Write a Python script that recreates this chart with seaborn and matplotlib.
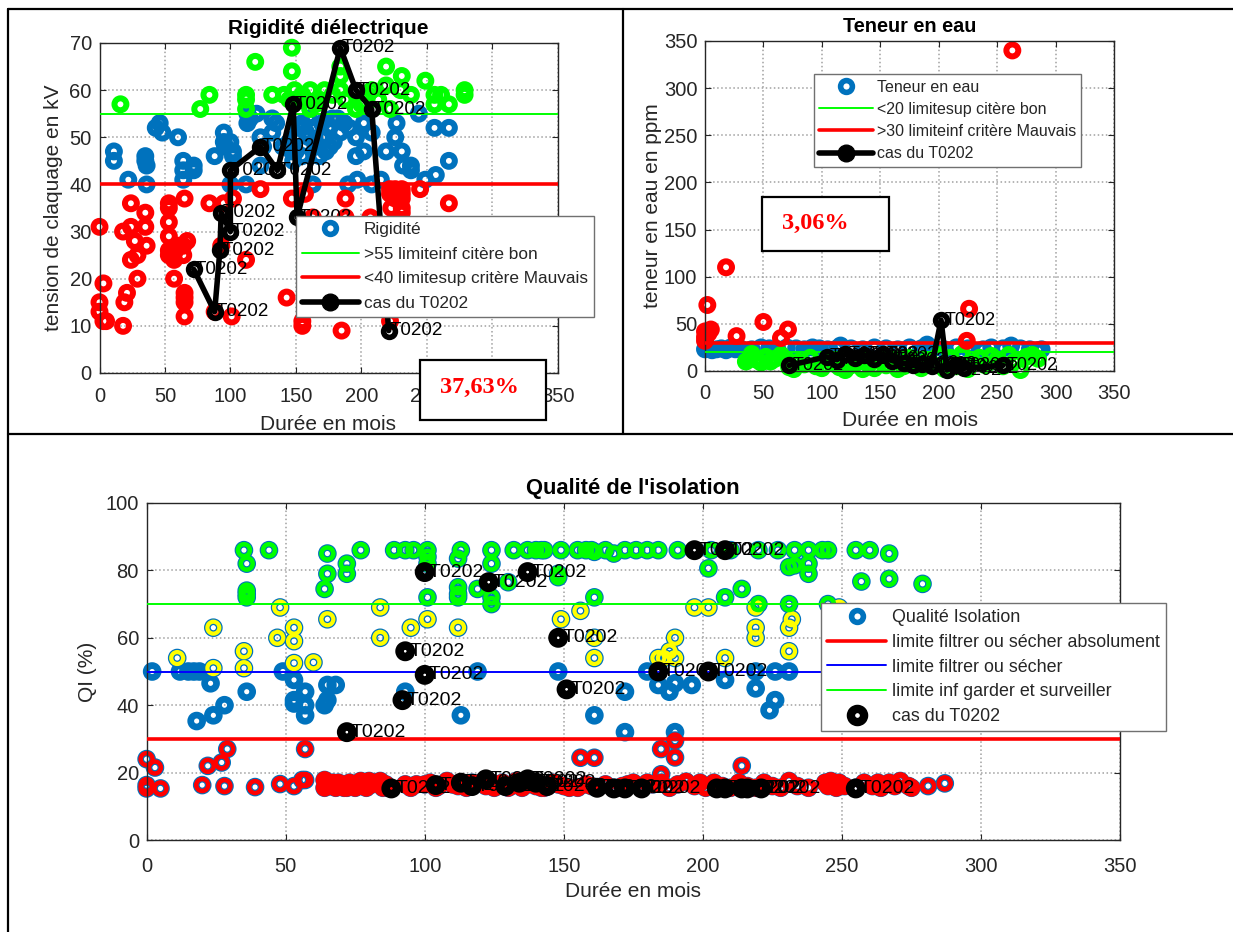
import pandas as pd
import seaborn as sns
import matplotlib.pyplot as plt
from matplotlib.lines import Line2D
from matplotlib.patches import Rectangle

W, H = 1233, 932
BLUE = '#0072BD'
RED = '#FF0000'
GREEN = '#00FF00'
YELLOW = '#FFFF00'

# --- Rigidite dielectrique
rig_blue_x = [11, 11, 22, 35, 35, 36, 36, 46, 43, 48, 60, 64, 64, 64, 72, 72, 88, 95, 95, 100, 96, 102, 102, 100, 112, 113, 113, 120, 123, 123, 132, 132, 135, 147, 140, 145, 150, 155, 158, 160, 163, 165, 168, 170, 173, 173, 176, 179, 184, 187, 191, 163, 190, 197, 196, 202, 196, 202, 208, 208, 215, 219, 226, 227, 231, 232, 238, 238, 249, 257, 256, 267, 267, 244, 115, 125, 150, 155, 165, 175, 160, 170, 178, 182, 152, 148]
rig_blue_y = [47, 45, 41, 46, 45, 44, 40, 53, 52, 51, 50, 45, 43, 41, 44, 43, 46, 51, 49, 49, 48, 47, 46, 40, 40, 53, 55, 55, 50, 44, 54, 51, 53, 47, 48, 49, 50, 53, 51, 54, 52, 48, 46, 50, 47, 50, 48, 49, 51, 53, 52, 40, 40, 41, 46, 47, 50, 53, 51, 40, 41, 47, 50, 53, 47, 44, 44, 43, 41, 42, 52, 52, 45, 55, 54, 48, 47, 46, 49, 52, 50, 53, 54, 54, 52, 45]
rig_green_x = [16, 77, 84, 112, 112, 112, 119, 132, 147, 147, 141, 149, 161, 172, 161, 184, 184, 188, 196, 208, 219, 219, 231, 238, 249, 256, 256, 261, 267, 279, 279, 150, 155, 168, 178, 200, 205, 213, 222, 230, 184, 145, 165]
rig_green_y = [57, 56, 59, 59, 58, 56, 66, 59, 69, 64, 59, 60, 60, 60, 56, 63, 60, 58, 56, 60, 65, 61, 63, 59, 62, 59, 57, 59, 57, 60, 59, 58, 59, 58, 59, 57, 59, 58, 56, 60, 65, 58, 57]
rig_red_x = [0, 3, 0, 0, 3, 5, 18, 19, 21, 29, 24, 29, 27, 24, 18, 35, 35, 24, 36, 53, 53, 53, 53, 53, 55, 57, 57, 65, 65, 65, 65, 65, 67, 64, 58, 64, 84, 95, 102, 93, 112, 101, 88, 123, 147, 157, 143, 155, 155, 188, 185, 188, 163, 207, 222, 222, 226, 231, 245, 267, 223, 231, 231, 231, 226, 222, 231, 53, 60]
rig_red_y = [31, 19, 15, 13, 11, 11, 10, 15, 17, 20, 24, 25, 28, 31, 30, 31, 34, 36, 27, 36, 35, 32, 29, 26, 25, 24, 20, 37, 12, 15, 16, 17, 28, 27, 26, 25, 36, 36, 37, 27, 24, 12, 13, 39, 37, 38, 16, 10, 11, 37, 9, 33, 33, 33, 11, 39, 39, 39, 39, 36, 35, 35, 34, 37, 37, 38, 38, 25, 27]
rig_case_x = [72, 88, 92, 93, 100, 100, 123, 136, 148, 151, 184, 196, 208, 221]
rig_case_y = [22, 13, 26, 34, 30, 43, 48, 43, 57, 33, 69, 60, 56, 9]

# --- Teneur en eau
eau_blue_x = [0, 3, 6, 10, 14, 18, 22, 26, 30, 40, 48, 55, 62, 70, 78, 85, 92, 98, 105, 113, 116, 125, 135, 145, 155, 165, 175, 185, 190, 195, 205, 215, 225, 238, 245, 255, 262, 270, 278, 285, 288]
eau_blue_y = [23, 24, 22, 23, 24, 22, 25, 23, 24, 23, 25, 24, 23, 25, 24, 23, 25, 24, 23, 24, 27, 24, 23, 25, 24, 23, 25, 24, 28, 24, 23, 25, 24, 23, 25, 24, 27, 24, 23, 22, 23]
eau_green_x = [35, 38, 40, 44, 48, 52, 56, 60, 65, 70, 72, 76, 80, 85, 90, 95, 100, 105, 110, 115, 120, 125, 130, 135, 140, 145, 150, 155, 160, 165, 170, 175, 180, 185, 190, 195, 200, 205, 210, 215, 220, 225, 230, 235, 240, 245, 250, 255, 260, 265, 270, 275, 280, 285]
eau_green_y = [10, 13, 18, 12, 9, 15, 10, 13, 17, 12, 4, 2, 10, 7, 14, 5, 3, 12, 8, 4, 1, 6, 9, 2, 7, 3, 10, 6, 12, 2, 5, 14, 8, 3, 11, 7, 17, 2, 14, 5, 18, 2, 9, 14, 6, 16, 12, 5, 17, 10, 1, 15, 17, 13]
eau_red_x = [263, 18, 2, 226, 50, 27, 71, 65, 5, 0, 0, 0, 224, 3]
eau_red_y = [340, 110, 70, 66, 52, 37, 44, 35, 44, 42, 36, 32, 32, 40]
eau_case_x = [72, 104, 113, 120, 128, 136, 145, 152, 160, 170, 178, 186, 194, 202, 207, 215, 222, 255]
eau_case_y = [6, 15, 12, 18, 14, 17, 13, 18, 11, 8, 6, 7, 5, 54, 1, 6, 3, 6]

# --- Qualite de l'isolation
qi_green_x = [35, 36, 36, 36, 36, 44, 65, 65, 64, 72, 72, 77, 89, 93, 96, 101, 101, 101, 101, 113, 112, 112, 112, 112, 119, 124, 124, 124, 124, 130, 132, 137, 140, 142, 143, 149, 148, 148, 155, 158, 160, 161, 161, 165, 168, 172, 176, 180, 184, 191, 202, 208, 214, 220, 231, 203, 210, 220, 227, 233, 238, 243, 245, 255, 260, 267, 231, 233, 238, 238, 257, 267, 279, 245]
qi_green_y = [86, 82, 74, 73, 72, 86, 85, 79, 74.5, 82, 79, 86, 86, 86, 86, 86, 84, 82, 72, 86, 83.5, 75, 73, 72, 74.5, 86, 82, 72, 70, 76.5, 86, 86, 86, 86, 86, 86, 79, 78, 86, 86, 86, 85.5, 72, 86, 85, 86, 86, 86, 86, 86, 80.6, 72, 74.5, 70, 70, 86, 86, 86, 86, 86, 86, 86, 86, 86, 86, 85, 81, 81.5, 82, 79, 76.7, 77.5, 76, 70]
qi_yellow_x = [11, 24, 24, 35, 35, 48, 47, 53, 53, 53, 60, 65, 84, 84, 95, 101, 112, 149, 156, 161, 161, 184, 188, 190, 190, 186, 197, 202, 208, 219, 219, 219, 231, 232, 231, 249]
qi_yellow_y = [54, 63, 51, 56, 51, 69, 60, 63, 59, 52.5, 52.7, 65.5, 69, 60, 63, 65.5, 63, 65.5, 68, 60, 54, 54, 56, 60, 54, 54, 69, 69, 54, 69, 63, 60, 63, 65.5, 56, 69]
qi_blue_x = [2, 12, 15, 17, 19, 23, 18, 24, 28, 36, 49, 53, 53, 53, 57, 57, 57, 65, 68, 65, 64, 93, 119, 113, 148, 161, 172, 172, 180, 184, 188, 190, 196, 190, 208, 219, 219, 226, 231, 226, 224]
qi_blue_y = [50, 50, 50, 50, 50, 46.5, 35.3, 37, 40, 44, 50, 47.5, 40.5, 41.5, 44, 40, 37, 46, 46, 41.5, 40, 44, 50, 37, 50, 37, 44, 32, 50, 46, 44, 46.5, 46, 32, 47.5, 50, 45, 50, 50, 41.5, 38.5]
qi_red_x = [0, 3, 0, 0, 5, 20, 22, 27, 29, 28, 39, 48, 53, 56, 57, 57, 156, 161, 185, 190, 190, 214, 185, 281, 287]
qi_red_y = [24, 21.5, 16.3, 15.3, 15.3, 16.3, 22, 23, 27, 16, 15.7, 16.6, 16, 17.8, 27, 17.8, 24.4, 24.4, 27, 29.5, 24.5, 22, 19.5, 16, 16.8]
band_x = [64, 64, 65, 66, 67, 68, 69, 70, 71, 72, 73, 74, 75, 77, 78, 79, 80, 81, 82, 84, 85, 86, 87, 93, 95, 97, 100, 102, 104, 105, 108, 110, 112, 114, 115, 117, 118, 120, 122, 124, 125, 127, 128, 130, 131, 133, 135, 137, 139, 140, 142, 143, 145, 146, 148, 150, 152, 155, 158, 160, 162, 165, 168, 171, 173, 175, 178, 180, 182, 185, 188, 191, 194, 197, 199, 201, 204, 207, 210, 213, 216, 219, 222, 225, 228, 231, 234, 238, 244, 245, 246, 248, 249, 251, 255, 258, 261, 263, 264, 267, 269, 271, 274, 275]
band_y = [17.8, 15.5, 16.5, 16, 17, 15.5, 17, 16.5, 15.5, 15.5, 17, 16, 15.5, 17.5, 16, 15.5, 17.5, 16.5, 17, 17.5, 15.5, 16.5, 15.5, 16.5, 15.5, 16.5, 16.5, 17, 15.5, 16, 17.5, 16.5, 16, 16.5, 15.5, 17, 16.5, 17, 16, 17, 15.5, 16.5, 17, 15.5, 16, 17.5, 15.5, 16.5, 17, 16, 15.5, 15.5, 16.5, 17, 16.5, 16, 15.5, 15.5, 16.5, 16, 15.5, 16.5, 15.5, 16, 16.5, 17, 15.5, 17, 16.5, 17, 15.5, 16.5, 17.3, 16, 17, 15.5, 17, 16, 15.5, 17, 16, 15.5, 17, 16, 15.5, 17.5, 16, 15.5, 17, 16, 17.5, 15.5, 17, 16, 15.5, 17, 16, 17, 15.5, 17, 16, 17.5, 16, 15.5]
qi_case_x = [72, 88, 93, 92, 100, 100, 104, 113, 117, 122, 123, 129, 134, 137, 137, 140, 144, 148, 151, 162, 168, 172, 178, 184, 197, 202, 205, 208, 208, 214, 216, 221, 255]
qi_case_y = [32, 15.3, 56, 41.5, 79.5, 49, 16.3, 17, 16, 18, 76.5, 16, 17, 79.5, 18, 17, 16, 60, 44.7, 15.5, 15.3, 15.3, 15.3, 50, 86, 50, 15.3, 86, 15.3, 15.3, 15.3, 15.3, 15.3]

sns.set_style('ticks')
plt.rcParams['font.family'] = ['Liberation Sans', 'DejaVu Sans']
plt.rcParams['axes.linewidth'] = 1.0
fig = plt.figure(figsize=(W / 100, H / 100), dpi=100)


def add_axes(x0, x1, ytop, ybot, xpad):
    ax = fig.add_axes([x0 / W, 1 - ybot / H, (x1 - x0) / W, (ybot - ytop) / H])
    ax.set_axisbelow(True)
    ax.grid(True, color='#a0a0a0', linestyle=':', linewidth=1.1)
    ax.tick_params(direction='in', top=True, right=True, length=4, width=0.8,
                   labelsize=14.5, labelcolor='#262626')
    ax.tick_params(axis='x', pad=xpad)
    ax.tick_params(axis='y', pad=5.5)
    for s in ax.spines.values():
        s.set_visible(True)
        s.set_color('#262626')
    ax.set_xlim(0, 350)
    return ax


def rings(ax, xs, ys, color, s=74, lw=4.3, z=2):
    df = pd.DataFrame({'x': xs, 'y': ys})
    sns.scatterplot(data=df, x='x', y='y', ax=ax, s=s, facecolor='none',
                    edgecolor=color, linewidth=lw, zorder=z, clip_on=False, legend=False)


def finish(ax, title, xlabel, ylabel, title_size, xpad, ypad, tpad):
    ax.set_title(title, fontsize=title_size, fontweight='bold', color='black', pad=tpad)
    ax.set_xlabel(xlabel, fontsize=15, color='#262626', labelpad=xpad)
    ax.set_ylabel(ylabel, fontsize=15, color='#262626', labelpad=ypad)


def labels(ax, xs, ys, size, dx=1.0):
    for x, y in zip(xs, ys):
        ax.text(x + dx, y, 'T0202', fontsize=size, color='black', va='center', ha='left', zorder=4)


def make_legend(ax, handles, names, x0, ytop, size, **kw):
    leg = ax.legend(handles, names, loc='upper left', bbox_to_anchor=(x0 / W, 1 - ytop / H),
                    bbox_transform=fig.transFigure, borderaxespad=0, fancybox=False,
                    framealpha=1, edgecolor='#707070', fontsize=size, **kw)
    leg.get_frame().set_linewidth(1.0)
    leg.set_zorder(6)
    for t in leg.get_texts():
        t.set_color('#262626')


def pct_box(x0, x1, ytop, ybot, txt, tx, ty):
    fig.add_artist(Rectangle((x0 / W, 1 - ybot / H), (x1 - x0) / W, (ybot - ytop) / H,
                             transform=fig.transFigure, fc='white', ec='black', lw=1.6, zorder=10))
    fig.text(tx / W, 1 - ty / H, txt, color=RED, fontsize=17.5, fontweight='bold',
             family='Liberation Serif', ha='left', va='center', zorder=11)


def ring_handle(color=BLUE):
    return Line2D([], [], ls='none', marker='o', mfc='none', mec=color, mew=4.0, ms=8.5)


# panel 1
ax1 = add_axes(99.5, 557.5, 43, 373, 10)
rings(ax1, rig_blue_x, rig_blue_y, BLUE)
rings(ax1, rig_green_x, rig_green_y, GREEN)
rings(ax1, rig_red_x, rig_red_y, RED)
ax1.axhline(55, color=GREEN, lw=1.4, zorder=3)
ax1.axhline(40, color=RED, lw=2.6, zorder=3)
sns.lineplot(x=rig_case_x, y=rig_case_y, ax=ax1, sort=False, estimator=None, color='black', lw=4,
             marker='o', ms=8.5, mfc='none', mec='black', mew=4, zorder=4, clip_on=False)
labels(ax1, rig_case_x, rig_case_y, 13.5)
ax1.set_ylim(0, 70)
ax1.set_yticks(range(0, 71, 10))
ax1.set_xticks(range(0, 351, 50))
finish(ax1, 'Rigidité diélectrique', 'Durée en mois', 'tension de claquage en kV', 15, 6.5, 4.5, 6.5)
make_legend(ax1,
            [ring_handle(), Line2D([], [], color=GREEN, lw=1.4), Line2D([], [], color=RED, lw=2.6),
             Line2D([], [], color='black', lw=4, marker='o', ms=12)],
            ['Rigidité', '>55 limiteinf citère bon', '<40 limitesup critère Mauvais', 'cas du T0202'],
            296, 216, 12.4, handlelength=3.3, labelspacing=0.56, borderpad=0.35, handletextpad=0.3)

# panel 2
ax2 = add_axes(705, 1114, 41, 371, 9.5)
rings(ax2, eau_blue_x, eau_blue_y, BLUE)
rings(ax2, eau_green_x, eau_green_y, GREEN)
rings(ax2, eau_red_x, eau_red_y, RED)
ax2.axhline(20, color=GREEN, lw=1.4, zorder=3)
ax2.axhline(30, color=RED, lw=2.6, zorder=3)
sns.lineplot(x=eau_case_x, y=eau_case_y, ax=ax2, sort=False, estimator=None, color='black', lw=4,
             marker='o', ms=8.5, mfc='none', mec='black', mew=4, zorder=4, clip_on=False)
labels(ax2, eau_case_x, eau_case_y, 13, dx=3)
ax2.set_ylim(0, 350)
ax2.set_yticks(range(0, 351, 50))
ax2.set_xticks(range(0, 351, 50))
finish(ax2, 'Teneur en eau', 'Durée en mois', 'teneur en eau en ppm', 14.3, 5.5, 1, 6.5)
make_legend(ax2,
            [ring_handle(), Line2D([], [], color=GREEN, lw=1.4), Line2D([], [], color=RED, lw=2.6),
             Line2D([], [], color='black', lw=4, marker='o', ms=12)],
            ['Teneur en eau', '<20 limitesup citère bon', '>30 limiteinf critère Mauvais', 'cas du T0202'],
            813.5, 74, 11.5, handlelength=3.4, labelspacing=0.45, borderpad=0.35, handletextpad=0.2)

# panel 3
ax3 = add_axes(146.6, 1120, 503, 840, 12)
all_x = qi_blue_x + qi_red_x + band_x + qi_green_x + qi_yellow_x
all_y = qi_blue_y + qi_red_y + band_y + qi_green_y + qi_yellow_y
rings(ax3, all_x, all_y, BLUE, s=74, lw=4.8)
rings(ax3, qi_yellow_x, qi_yellow_y, YELLOW, s=74, lw=3.0, z=2.1)
rings(ax3, qi_green_x, qi_green_y, GREEN, s=74, lw=3.2, z=2.2)
rings(ax3, qi_red_x, qi_red_y, RED, s=74, lw=3.2, z=2.3)
rings(ax3, band_x, band_y, RED, s=74, lw=4.2, z=2.3)
ax3.axhline(30, color=RED, lw=2.6, zorder=3)
ax3.axhline(50, color='#0000FF', lw=1.4, zorder=3)
ax3.axhline(70, color=GREEN, lw=1.4, zorder=3)
rings(ax3, qi_case_x, qi_case_y, 'black', s=68, lw=6.1, z=3.5)
labels(ax3, qi_case_x, qi_case_y, 14, dx=1.5)
ax3.set_ylim(0, 100)
ax3.set_yticks(range(0, 101, 20))
ax3.set_xticks(range(0, 351, 50))
finish(ax3, "Qualité de l'isolation", 'Durée en mois', 'QI (%)', 15.8, 4.5, 6, 6.5)
make_legend(ax3,
            [ring_handle(), Line2D([], [], color=RED, lw=2.6), Line2D([], [], color='#0000FF', lw=1.4),
             Line2D([], [], color=GREEN, lw=1.4),
             Line2D([], [], ls='none', marker='o', mfc='none', mec='black', mew=6, ms=9.5)],
            ['Qualité Isolation', 'limite filtrer ou sécher absolument', 'limite filtrer ou sécher',
             'limite inf garder et surveiller', 'cas du T0202'],
            821, 603, 12.9, handlelength=3.3, labelspacing=0.43, borderpad=0.34, handletextpad=0.3)

pct_box(420, 546, 360, 420, '37,63%', 440, 387)
pct_box(761.5, 889, 197, 251, '3,06%', 782, 223)

# outer table lines
for (xa, ya, xb, yb) in [(8, 9, W, 9), (8, 9, 8, H), (623, 9, 623, 434), (8, 434, W, 434)]:
    fig.add_artist(Line2D([xa / W, xb / W], [1 - ya / H, 1 - yb / H], color='black', lw=1.6, zorder=12))

fig.savefig('out.png', dpi=100)
